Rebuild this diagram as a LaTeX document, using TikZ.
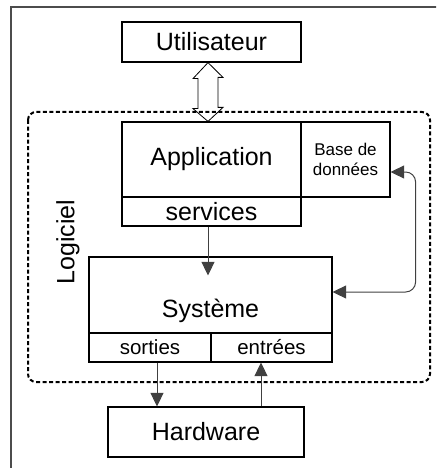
\documentclass[tikz,border=0pt]{standalone}
\usepackage{fontspec}
\setmainfont{Liberation Sans}
\usetikzlibrary{arrows.meta}
\begin{document}
\begin{tikzpicture}[x=1pt, y=-1pt,
  box/.style={draw, line width=1.2pt, inner sep=0pt, font=\fontsize{25}{28}\selectfont},
  subbox/.style={box, font=\fontsize{20.5}{24}\selectfont},
  tip/.tip={Triangle[length=13.5pt, width=13pt]},
  conn/.style={draw=black!75, line width=1pt, -tip}]
  \useasboundingbox (0,0) rectangle (436,468);
  \clip (0,0) rectangle (436,468);
  % outer frame, cut off at the right and bottom
  \draw[black!70, line width=2pt] (11,7) rectangle (460,490);
  % software area
  \draw[line width=2pt, dash pattern=on 4pt off 2.5pt, rounded corners=8pt] (28,112) rectangle (430,382);
  \node[font=\fontsize{25}{28}\selectfont, rotate=90] (logiciel) at (68,242) {Logiciel};
  % boxes
  \node[box, minimum width=179pt, minimum height=40pt] (user) at (211.5,42) {Utilisateur};
  \node[box, minimum width=179pt, minimum height=75pt] (app) at (211.5,159.5) {Application};
  \node[box, minimum width=89pt, minimum height=75pt, align=center, font=\fontsize{17}{20}\selectfont] (db) at (345.5,159.5) {Base de\\données};
  \node[box, minimum width=179pt, minimum height=29pt] (serv) at (211.5,211.5) {services};
  \node[box, minimum width=243pt, minimum height=76pt, text height=44pt, text depth=0pt] (sys) at (210.5,295) {Système};
  \node[subbox, minimum width=122pt, minimum height=29pt] (out) at (150,347.5) {sorties};
  \node[subbox, minimum width=121pt, minimum height=29pt] (in) at (271.5,347.5) {entrées};
  \node[box, minimum width=196pt, minimum height=50pt] (hw) at (206,432) {Hardware};
  % hollow double arrow user <-> application
  \draw[line width=0.8pt] ([xshift=-3.5pt]user.south) -- ++(-15,16) -- ++(5,0) -- ++(0,30) -- ++(-5,0)
    -- ([xshift=-3.5pt]app.north) -- ++(15,-14) -- ++(-5,0) -- ++(0,-30) -- ++(5,0) -- cycle;
  % connectors
  \draw[conn] ([xshift=-3.5pt]serv.south) -- ([xshift=-3.5pt, yshift=-19pt]serv.south |- sys.north);
  \draw[conn, tip-tip, rounded corners=10pt]
    ([yshift=-12.5pt]db.east) -- ++(25,0) |- ([yshift=3pt]sys.east);
  \draw[conn] ([xshift=7pt]out.south) -- ([xshift=7pt]out.south |- hw.north);
  \draw[conn] ([xshift=-10.5pt]hw.north -| in.south) -- ([xshift=-10.5pt]in.south);
\end{tikzpicture}
\end{document}
